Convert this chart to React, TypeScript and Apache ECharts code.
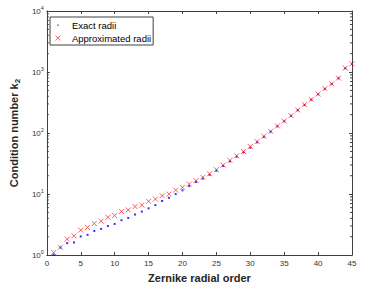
import React, { useEffect, useRef } from 'react';
import * as echarts from 'echarts';

const FONT = '"Liberation Sans", Arial, Helvetica, sans-serif';

const radialOrders = [
  1, 2, 3, 4, 5, 6, 7, 8, 9, 10, 11, 12, 13, 14, 15, 16, 17, 18, 19, 20, 21, 22, 23,
  24, 25, 26, 27, 28, 29, 30, 31, 32, 33, 34, 35, 36, 37, 38, 39, 40, 41, 42, 43, 44, 45,
];

const exactRadii = [
  1.02, 1.33, 1.57, 1.61, 2.02, 2.15, 2.49, 2.69, 3.0, 3.24, 3.73, 4.07, 4.62, 5.17, 5.85,
  6.6, 7.7, 8.7, 10.0, 11.5, 13.5, 15.8, 18.0, 20.7, 24.2, 28.9, 34.4, 41.0, 48.3, 57.5,
  70.5, 86.5, 105, 129, 156, 191, 236, 289, 352, 432, 528, 638, 790, 1150, 1355,
];

const approximatedRadii = [
  1.1, 1.34, 1.83, 2.07, 2.56, 2.83, 3.29, 3.59, 4.17, 4.45, 5.17, 5.5, 6.24, 6.6, 7.6,
  8.3, 9.4, 10.0, 11.6, 12.9, 14.6, 16.6, 18.8, 21.5, 25.1, 29.8, 35.6, 42.4, 49.9, 60.2,
  72.6, 88.7, 107, 131, 158, 193, 239, 292, 356, 436, 533, 643, 795, 1160, 1364,
];

const yMinorTicks = [
  2, 3, 4, 5, 6, 7, 8, 9,
  20, 30, 40, 50, 60, 70, 80, 90,
  200, 300, 400, 500, 600, 700, 800, 900,
  2000, 3000, 4000, 5000, 6000, 7000, 8000, 9000,
];

const X_MIN = 0;
const X_MAX = 45;
const X_INTERVAL = 5;
const Y_MIN = 1;
const Y_MAX = 10000;

const AXIS_COLOR = '#404040';
const LABEL_COLOR = '#333333';
const RED = '#ff2020';

export default function App() {
  const ref = useRef<HTMLDivElement>(null);

  useEffect(() => {
    if (!ref.current) return;
    const chart = echarts.init(ref.current, null, { renderer: 'svg' });

    const axisLine = { show: true, onZero: false, lineStyle: { color: AXIS_COLOR, width: 1 } };
    const axisTick = { show: true, inside: true, length: 3, lineStyle: { color: AXIS_COLOR, width: 1 } };

    const option: any = {
      animation: false,
      backgroundColor: '#ffffff',
      textStyle: { fontFamily: FONT },
      grid: { left: 43, right: 26, top: 11, bottom: 31, containLabel: false },
      legend: {
        show: true,
        orient: 'vertical',
        left: 50,
        top: 17,
        padding: [3, 2, 2, 5],
        itemWidth: 18,
        itemHeight: 5,
        itemGap: 3,
        borderColor: '#404040',
        borderWidth: 1,
        backgroundColor: '#ffffff',
        textStyle: { fontFamily: FONT, fontSize: 9.5, color: '#000000', lineHeight: 10, padding: [0, 0, 0, 0] },
        data: [
          {
            name: 'Exact radii',
            icon: 'path://M0,0M10,10M3.8,3.8L6.6,3.8L6.6,6.6L3.8,6.6Z',
            itemStyle: { color: '#0000ff', borderWidth: 0 },
          },
          {
            name: 'Approximated radii',
            icon: 'path://M0,0L10,10M10,0L0,10',
            itemStyle: { color: 'rgba(255,0,0,0)', borderColor: RED, borderWidth: 0.9 },
          },
        ],
      },
      xAxis: [
        {
          type: 'value',
          min: X_MIN,
          max: X_MAX,
          interval: X_INTERVAL,
          position: 'bottom',
          axisLine,
          axisTick,
          splitLine: { show: false },
          axisLabel: { show: true, margin: 4, fontSize: 8, color: LABEL_COLOR, fontFamily: FONT },
          name: 'Zernike radial order',
          nameLocation: 'middle',
          nameGap: 12,
          nameTextStyle: { fontFamily: FONT, fontSize: 11, fontWeight: 'bold', color: '#262626', verticalAlign: 'top' },
        },
        {
          type: 'value',
          min: X_MIN,
          max: X_MAX,
          interval: X_INTERVAL,
          position: 'top',
          axisLine,
          axisTick,
          splitLine: { show: false },
          axisLabel: { show: false },
        },
      ],
      yAxis: [
        {
          type: 'log',
          logBase: 10,
          min: Y_MIN,
          max: Y_MAX,
          position: 'left',
          axisLine,
          axisTick,
          splitLine: { show: false },
          minorTick: { show: false },
          axisLabel: {
            show: true,
            margin: 3,
            color: LABEL_COLOR,
            fontFamily: FONT,
            fontSize: 8,
            formatter: (v: number) => '10{sup|' + Math.round(Math.log10(v)) + '}',
            rich: {
              sup: { fontSize: 5.5, fontFamily: FONT, color: LABEL_COLOR, padding: [0, 0, 7, 0] },
            },
          },
          name: 'Condition number k{sub|2}',
          nameLocation: 'middle',
          nameGap: 18,
          nameRotate: 90,
          nameTextStyle: {
            fontFamily: FONT,
            fontSize: 11,
            fontWeight: 'bold',
            color: '#262626',
            rich: {
              sub: { fontFamily: FONT, fontSize: 8, fontWeight: 'bold', color: '#262626', padding: [7, 0, 0, 0] },
            },
          },
        },
        {
          type: 'log',
          logBase: 10,
          min: Y_MIN,
          max: Y_MAX,
          position: 'right',
          axisLine,
          axisTick,
          splitLine: { show: false },
          axisLabel: { show: false },
        },
      ],
      series: [
        {
          name: 'Exact radii',
          type: 'scatter',
          xAxisIndex: 0,
          yAxisIndex: 0,
          symbol: 'rect',
          symbolSize: 2,
          itemStyle: { color: '#0000ff' },
          z: 2,
          data: radialOrders.map((o, i) => [o, exactRadii[i]]),
        },
        {
          name: 'Approximated radii',
          type: 'scatter',
          xAxisIndex: 0,
          yAxisIndex: 0,
          symbol: 'path://M0,0L10,10M10,0L0,10',
          symbolSize: 5,
          itemStyle: { color: 'rgba(255,0,0,0)', borderColor: RED, borderWidth: 0.9 },
          z: 3,
          data: radialOrders.map((o, i) => [o, approximatedRadii[i]]),
        },
        {
          name: 'minorTicks',
          type: 'custom',
          xAxisIndex: 0,
          yAxisIndex: 0,
          silent: true,
          z: 1,
          data: yMinorTicks.map((v) => [X_MIN, v]),
          renderItem: (params: any, api: any) => {
            const v = api.value(1);
            const pl = api.coord([X_MIN, v]);
            const pr = api.coord([X_MAX, v]);
            const style = { stroke: AXIS_COLOR, lineWidth: 1 };
            return {
              type: 'group',
              children: [
                { type: 'line', shape: { x1: pl[0], y1: pl[1], x2: pl[0] + 2, y2: pl[1] }, style },
                { type: 'line', shape: { x1: pr[0], y1: pr[1], x2: pr[0] - 2, y2: pr[1] }, style },
              ],
            };
          },
        },
      ],
    };

    chart.setOption(option);
    return () => chart.dispose();
  }, []);

  return <div ref={ref} style={{ position: 'fixed', left: 0, top: 0, width: 378, height: 288 }} />;
}
